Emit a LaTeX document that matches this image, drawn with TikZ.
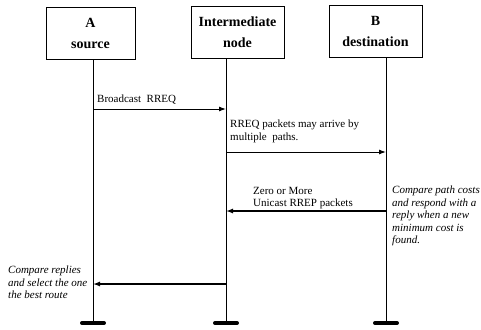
\documentclass[tikz,border=0pt]{standalone}
\usepackage{fontspec}
\setmainfont{Liberation Serif}
\usetikzlibrary{arrows.meta}
\begin{document}
\begin{tikzpicture}[x=1pt,y=-1pt,
  actor/.style={draw,line width=0.9pt,minimum height=52pt,inner sep=0pt,
    align=center,font=\bfseries\fontsize{14}{21}\selectfont},
  life/.style={line width=0.8pt},
  foot/.style={line width=4pt,line cap=round},
  msg/.style={line width=1pt,-{Latex[length=7pt,width=5pt]}},
  msgthick/.style={msg,line width=1.3pt},
  lbl/.style={anchor=north west,inner sep=0pt,align=left,
    font=\fontsize{11}{12.5}\selectfont},
  note/.style={lbl,font=\itshape\fontsize{11}{12.5}\selectfont}]
\useasboundingbox (0,0) rectangle (481,329);

% participants
\node[actor,minimum width=89pt] (A) at (90.5,33) {A\\source};
\node[actor,minimum width=93pt] (I) at (237.5,32) {Intermediate\\node};
\node[actor,minimum width=93pt] (B) at (375.5,31) {B\\destination};

% lifeline ends
\coordinate (eA) at (93,323);
\coordinate (eI) at (226,323);
\coordinate (eB) at (386,323);

\draw[life] (A.south -| eA) -- (eA);
\draw[life] (I.south -| eI) -- (eI);
\draw[life] (B.south -| eB) -- (eB);

\foreach \e in {eA,eI,eB}
  \draw[foot] ([xshift=-11pt]\e) -- ([xshift=11pt]\e);

% message end points on the lifelines
\coordinate (a1) at (93,109);   \coordinate (i1) at (226,109);
\coordinate (i2) at (226,152);  \coordinate (b2) at (386,152);
\coordinate (b3) at (386,211);  \coordinate (i3) at (226,211);
\coordinate (i4) at (226,284);  \coordinate (a4) at (93,284);

\draw[msg] (a1) -- (i1);
\draw[msg] (i2) -- (b2);
\draw[msgthick] (b3) -- (i3);
\draw[msgthick] (i4) -- (a4);

% message labels
\node[lbl] (t1) at (97,94.5) {Broadcast\ \ RREQ};
\node[lbl] (t2) at (230,120) {RREQ packets may arrive by\\multiple\ \ paths.};
\node[lbl] (t3) at (253,187) {Zero or More\\Unicast RREP packets};

% side notes
\node[note] (n1) at (392,186) {Compare path costs\\and respond with a\\reply when a new\\minimum cost is\\found.};
\node[note] (n2) at (8,266) {Compare replies\\and select the one\\the best route};
\end{tikzpicture}
\end{document}
